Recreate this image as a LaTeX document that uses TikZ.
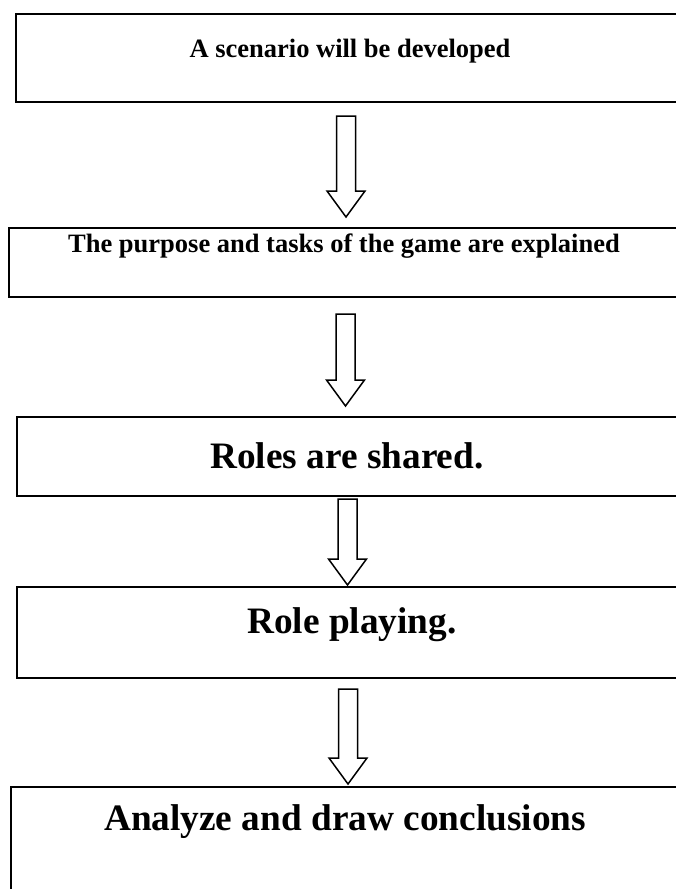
\documentclass[tikz,border=0pt]{standalone}
\usepackage{fontspec}
\setmainfont{Liberation Serif}
\newcommand{\smalltext}{\fontsize{26.5}{30}\selectfont\bfseries}
\newcommand{\bigtext}{\fontsize{37.3}{42}\selectfont\bfseries}
% block arrow: x, top of shaft, tip
\newcommand{\blockarrow}[3]{%
  \draw[arrowline] (#1-9.5,#2) -- (#1+9.5,#2) -- (#1+9.5,#3-26) -- (#1+19,#3-26)
    -- (#1,#3) -- (#1-19,#3-26) -- (#1-9.5,#3-26) -- cycle;}

\begin{document}
\begin{tikzpicture}[x=1pt,y=-1pt,
    stepbox/.style={draw, line width=2pt, rectangle, anchor=north west,
      minimum width=700pt, inner sep=0pt},
    arrowline/.style={draw, line width=1.5pt, line join=miter}]
    \useasboundingbox (0,0) rectangle (676,889);
    \clip (0,0) rectangle (676,889);

    \node[stepbox, minimum height=88pt] (scen) at (14.7,13) {};
    \node[stepbox, minimum height=69pt] (purp) at (8,227) {};
    \node[stepbox, minimum height=79pt] (share) at (16,416) {};
    \node[stepbox, minimum height=91pt] (play) at (16,586) {};
    \node[stepbox, minimum height=130pt] (concl) at (10,786) {};

    \node[anchor=base] (scentxt) at (350,57) {\smalltext A scenario will be developed};
    \node[anchor=base] (purptxt) at (344,252) {\smalltext The purpose and tasks of the game are explained};
    \node[anchor=base] (sharetxt) at (347,468) {\bigtext Roles are shared.};
    \node[anchor=base] (playtxt) at (352,633) {\bigtext Role playing.};
    \node[anchor=base] (concltxt) at (345,830) {\bigtext Analyze and draw conclusions};

    \blockarrow{346}{116}{217}
    \blockarrow{345.5}{314}{406}
    \blockarrow{347.5}{499}{585}
    \blockarrow{348}{689}{784}
\end{tikzpicture}
\end{document}
